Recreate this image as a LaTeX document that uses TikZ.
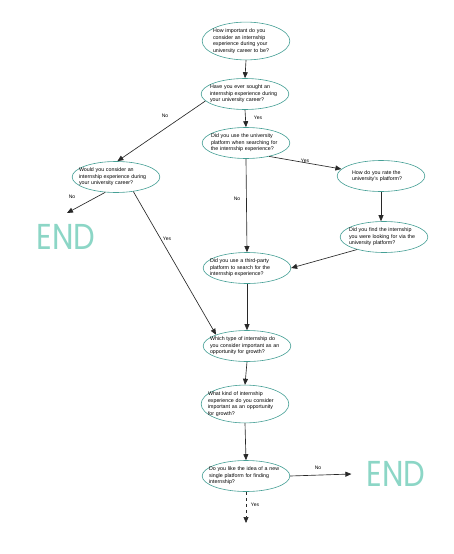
\documentclass[tikz,border=0pt]{standalone}
\usepackage{fontspec}
\setmainfont{Liberation Sans}
\newfontfamily\endfont{Poppins}
\usetikzlibrary{arrows.meta,shapes.geometric}
\definecolor{qline}{RGB}{70,160,150}
\definecolor{endcol}{RGB}{140,214,198}
\definecolor{arr}{RGB}{40,40,40}
\begin{document}
\begin{tikzpicture}[x=1pt,y=-1pt,
  q/.style={ellipse, draw=qline, line width=0.6pt, fill=white,
    inner xsep=-6pt, inner ysep=1pt, minimum height=31pt,
    text width=74pt, align=left, font=\fontsize{5.3}{6.6}\selectfont},
  lab/.style={font=\fontsize{5}{6}\selectfont, inner sep=0pt},
  conn/.style={draw=arr, line width=0.65pt, -{Triangle[length=6pt,width=5pt]}},
  endmark/.style={font=\endfont\fontsize{36}{36}\selectfont, text=endcol, inner sep=0pt, xscale=0.85}
]
\useasboundingbox (0,0) rectangle (454,554);

\node[q] (n1) at (246,41) {\hspace*{4pt}How important do you\\\hspace*{4pt}consider an internship\\\hspace*{4pt}experience during your\\\hspace*{4pt}university career to be?};
\node[q] (n2) at (245,94) {\hspace*{2pt}Have you ever sought an\\\hspace*{2pt}internship experience during\\\hspace*{2pt}your university career?};
\node[q] (n3) at (246,143) {\hspace*{2pt}Did you use the university\\\hspace*{2pt}platform when searching for\\\hspace*{2pt}the internship experience?};
\node[q] (n4) at (116,177) {Would you consider an\\internship experience during\\your university career?};
\node[q] (n5) at (381,176) {\hspace*{8pt}How do you rate the\\\hspace*{8pt}university's platform?};
\node[q] (n6) at (384,237) {\hspace*{2pt}Did you find the internship\\\hspace*{2pt}you were looking for via the\\\hspace*{2pt}university platform?};
\node[q] (n7) at (247,268) {Did you use a third-party\\platform to search for the\\internship experience?};
\node[q] (n8) at (247,346) {Which type of internship do\\you consider important as an\\opportunity for growth?};
\node[q] (n9) at (245,404) {What kind of internship\\experience do you consider\\important as an opportunity\\for growth?};
\node[q] (n10) at (246,476) {Do you like the idea of a new\\single platform for finding\\internship?};

\node[endmark] (end1) at (66,237) {END};
\node[endmark] (end2) at (396,474) {END};
\coordinate (end1in) at (67,213);
\coordinate (yesend) at (246,523);

\draw[conn] (n1.south) -- (n2.north);
\draw[conn] (n2.south) -- (n3.north);
\draw[conn] (n2.190) -- (n4.85);
\draw[conn] (n3.-30) -- (n5.170);
\draw[conn] (n5.south) -- (n5.south |- n6.north);
\draw[conn] (n6.205) -- (n7.east);
\draw[conn] (n3.south) -- (n7.north);
\draw[conn] (n4.235) -- (end1in);
\draw[conn] (n4.-40) -- (n8.160);
\draw[conn] (n7.south) -- (n8.north);
\draw[conn] (n8.south) -- (n9.north);
\draw[conn] (n9.south) -- (n10.north);
\draw[conn] (n10.east) -- ([xshift=-15pt]end2.west);
\draw[conn, dashed] (n10.south) -- (yesend);

\node[lab] (l1) at (258,118) {Yes};
\node[lab] (l2) at (165,116) {No};
\node[lab] (l3) at (305,161) {Yes};
\node[lab] (l4) at (237,199) {No};
\node[lab] (l5) at (72,197) {No};
\node[lab] (l6) at (167,239) {Yes};
\node[lab] (l7) at (318,468) {No};
\node[lab] (l8) at (255,505) {Yes};
\end{tikzpicture}
\end{document}
